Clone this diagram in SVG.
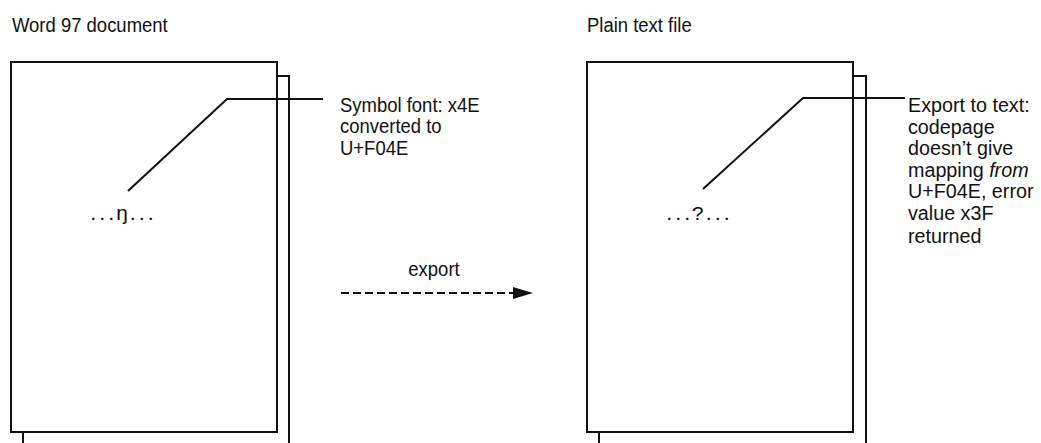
<svg xmlns="http://www.w3.org/2000/svg" width="1041" height="443" viewBox="0 0 1041 443">
<defs>
<style>
.lbl{font-family:"Liberation Sans",Arial,sans-serif;font-size:21px;fill:#111}
.mono{font-family:"Liberation Mono","DejaVu Sans Mono",monospace;font-size:15px;fill:#111;font-weight:bold}
.big{font-size:21px;font-weight:normal}
.pg{fill:#fff;stroke:#111;stroke-width:2}
.ln{fill:none;stroke:#111;stroke-width:2}
</style>
<marker id="ah" markerWidth="20" markerHeight="12" refX="20" refY="6" orient="auto" markerUnits="userSpaceOnUse">
<path d="M0,0 L20,6 L0,12 Z" fill="#111"/>
</marker>
</defs>
<rect width="1041" height="443" fill="#fff"/>
<g id="word-doc">
<text class="lbl" transform="translate(12,32) scale(0.88,1)">Word 97 document</text>
<path class="ln" d="M23,443 V76 H289 V443"/>
<rect class="pg" x="11" y="62" width="266" height="370"/>
<text class="mono" x="122" y="220" text-anchor="middle">...<tspan class="big">ŋ</tspan>...</text>
</g>
<g id="text-file">
<text class="lbl" transform="translate(587,32) scale(0.88,1)">Plain text file</text>
<path class="ln" d="M599,443 V76 H866 V443"/>
<rect class="pg" x="587" y="62" width="266" height="370"/>
<text class="mono" x="698" y="220" text-anchor="middle">...<tspan class="big">?</tspan>...</text>
</g>
<g id="note-word">
<text class="lbl" transform="translate(340,0) scale(0.88,1)"><tspan x="0" y="112">Symbol font: x4E</tspan><tspan x="0" y="133.5">converted to</tspan><tspan x="0" y="155">U+F04E</tspan></text>
</g>
<g id="note-text">
<text class="lbl" transform="translate(908,0) scale(0.94,1)"><tspan x="0" y="112">Export to text:</tspan><tspan x="0" y="134">codepage</tspan><tspan x="0" y="155.5">doesn’t give</tspan><tspan x="0" y="177">mapping <tspan font-style="italic">from</tspan></tspan><tspan x="0" y="198.5">U+F04E, error</tspan><tspan x="0" y="220">value x3F</tspan><tspan x="0" y="243">returned</tspan></text>
</g>
<g id="connectors">
<path class="ln" d="M128,191 L227,99 H323"/>
<path class="ln" d="M703,189 L803,98 H905"/>
<path class="ln" d="M341,293 H533" stroke-dasharray="8,4" marker-end="url(#ah)"/>
<text class="lbl" transform="translate(434,276) scale(0.88,1)" text-anchor="middle">export</text>
</g>
</svg>
